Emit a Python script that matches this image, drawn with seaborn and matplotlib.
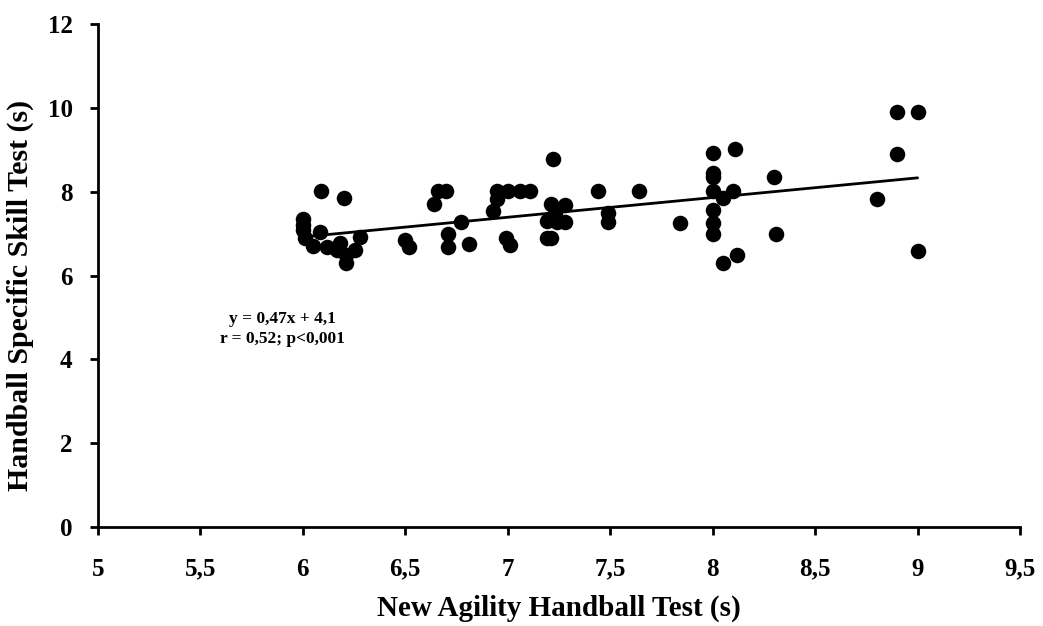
import matplotlib
matplotlib.use("Agg")
import matplotlib.pyplot as plt
import seaborn as sns
import pandas as pd

# Values
agility = [6.09, 6.20, 6.00, 6.00, 6.00, 6.01, 6.05, 6.085, 6.12, 6.18,
           6.165, 6.21, 6.21, 6.255, 6.28, 6.50, 6.52, 6.64, 6.66, 6.70,
           6.71, 6.71, 6.77, 6.81, 7.22, 6.95, 7.00, 7.06, 7.11, 6.95,
           6.93, 6.99, 7.01, 7.21, 7.28, 7.23, 7.19, 7.24, 7.28, 7.19,
           7.21, 7.44, 7.64, 7.49, 7.49, 7.84, 8.00, 8.11, 8.00, 8.00,
           8.30, 8.00, 8.05, 8.10, 8.00, 8.00, 8.00, 8.31, 8.05, 8.12,
           8.90, 9.00, 8.90, 8.80, 9.00]
skill = [8.02, 7.85, 7.35, 7.20, 7.08, 6.89, 6.71, 7.04, 6.67, 6.77,
         6.61, 6.49, 6.29, 6.60, 6.91, 6.85, 6.67, 7.70, 8.02, 8.02,
         6.99, 6.67, 7.28, 6.75, 8.78, 8.02, 8.02, 8.02, 8.02, 7.82,
         7.55, 6.90, 6.74, 7.70, 7.68, 7.50, 7.29, 7.28, 7.28, 6.90,
         6.90, 8.02, 8.02, 7.48, 7.27, 7.26, 8.92, 9.01, 8.44, 8.36,
         8.36, 8.02, 7.84, 8.02, 7.56, 7.26, 6.99, 6.99, 6.31, 6.49,
         9.91, 9.91, 8.89, 7.82, 6.59]

# regression line end points (y = 0,47x + 4,1)
fit_x = [6.0, 9.0]
fit_y = [6.92, 8.33]

x_ticks = [5, 5.5, 6, 6.5, 7, 7.5, 8, 8.5, 9, 9.5]
x_tick_labels = ["5", "5,5", "6", "6,5", "7", "7,5", "8", "8,5", "9", "9,5"]
y_ticks = [0, 2, 4, 6, 8, 10, 12]

df = pd.DataFrame({"agility": agility, "skill": skill})
fit = pd.DataFrame({"x": fit_x, "y": fit_y})

sns.set_style("white")
plt.rcParams["font.family"] = ["Liberation Serif", "DejaVu Serif"]
plt.rcParams["font.weight"] = "bold"
plt.rcParams["text.color"] = "black"
plt.rcParams["axes.labelcolor"] = "black"

fig = plt.figure(figsize=(10.43, 6.26), dpi=100)
ax = fig.add_axes([0.0937, 0.158, 0.8843, 0.8037])

sns.scatterplot(data=df, x="agility", y="skill", color="black", s=125,
                edgecolor="black", linewidth=0, ax=ax, zorder=3)
sns.lineplot(data=fit, x="x", y="y", color="black", linewidth=2, ax=ax, zorder=2)

ax.set_xlim(5, 9.5)
ax.set_ylim(0, 12)
ax.set_xticks(x_ticks)
ax.set_xticklabels(x_tick_labels)
ax.set_yticks(y_ticks)
ax.tick_params(axis="both", which="major", bottom=True, left=True,
               direction="out", length=6, width=2,
               labelsize=18, colors="black")
ax.tick_params(axis="y", pad=12)
ax.tick_params(axis="x", pad=16)
for lab in ax.get_xticklabels() + ax.get_yticklabels():
    lab.set_fontweight("bold")

sns.despine(ax=ax)
for side in ["left", "bottom"]:
    ax.spines[side].set_linewidth(2)
    ax.spines[side].set_color("black")

ax.set_xlabel("New Agility Handball Test (s)", fontsize=21, fontweight="bold",
              color="black", labelpad=10)
ax.set_ylabel("Handball Specific Skill Test (s)", fontsize=21.5, fontweight="bold",
              color="black")
ax.yaxis.set_label_coords(-0.069, 0.461)

ax.text(5.9, 4.72, "y = 0,47x + 4,1\nr = 0,52; p<0,001", ha="center", va="center",
        fontsize=12.5, fontweight="bold", color="black", linespacing=1.3)

fig.savefig("out.png", dpi=100)
